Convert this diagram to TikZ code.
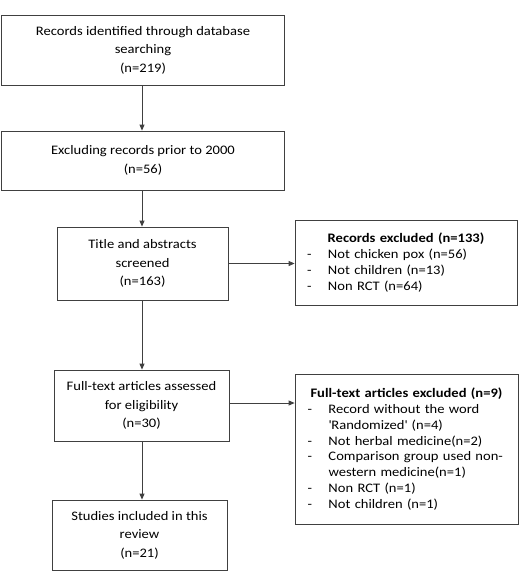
\documentclass[tikz,border=0pt]{standalone}
\usepackage{fontspec}
\setmainfont{Carlito}[FakeStretch = 1.12]
\usetikzlibrary{arrows.meta}

\newcommand{\exdash}{\makebox[21pt][l]{-}}

\begin{document}
\begin{tikzpicture}[x=1pt, y=-1pt,
    box/.style = {draw = black!75, line width = 0.8pt, align = center, inner sep = 0pt,
                  font = \fontsize{13}{18.5}\selectfont},
    exbox/.style = {draw = black!75, line width = 0.8pt, align = left, inner sep = 0pt,
                    text width = 198pt, font = \fontsize{13}{15.8}\selectfont},
    flow/.style = {-{Triangle[length = 6pt, width = 5pt]}, draw = black!75, line width = 0.8pt}]
    \useasboundingbox (0, 0) rectangle (523, 571);
    \node[box, minimum width = 283pt, minimum height = 70pt] (Identified) at (143, 50)
        {Records identified through database\\ searching\\ (n=219)};
    \node[box, minimum width = 283pt, minimum height = 59pt] (Prior 2000) at (143, 160.5)
        {Excluding records prior to 2000\\ (n=56)};
    \node[box, minimum width = 171pt, minimum height = 73pt] (Screened) at (142.5, 263.5)
        {Title and abstracts\\ screened\\ (n=163)};
    \node[box, minimum width = 175pt, minimum height = 71pt] (Full Text) at (141.5, 405.5)
        {Full-text articles assessed\\ for eligibility\\ (n=30)};
    \node[box, minimum width = 175pt, minimum height = 70pt] (Included) at (139.5, 535)
        {Studies included in this\\ review\\ (n=21)};
    \node[exbox, minimum width = 222pt, minimum height = 85pt] (Records Excluded) at (406, 262.5)
        {\makebox[\linewidth][c]{\bfseries Records excluded (n=133)}\\
         \exdash Not chicken pox (n=56)\\
         \exdash Not children (n=13)\\
         \exdash Non RCT (n=64)};
    \node[exbox, minimum width = 223pt, minimum height = 150pt] (Full Text Excluded) at (406.5, 449)
        {\makebox[\linewidth][c]{\bfseries Full-text articles excluded (n=9)}\\
         \exdash Record without the word\\
         \hspace*{21pt}\textquotesingle Randomized\textquotesingle\ (n=4)\\
         \exdash Not herbal medicine(n=2)\\
         \exdash Comparison group used non-\\
         \hspace*{21pt}western medicine(n=1)\\
         \exdash Non RCT (n=1)\\
         \exdash Not children (n=1)};
    \draw[flow] (Identified.south -| 142, 0) -- (Prior 2000.north -| 142, 0);
    \draw[flow] (Prior 2000.south -| 142, 0) -- (Screened.north -| 142, 0);
    \draw[flow] (Screened.south -| 142, 0) -- (Full Text.north -| 142, 0);
    \draw[flow] (Full Text.south -| 142, 0) -- (Included.north -| 142, 0);
    \draw[flow] (Screened.east) -- (Screened.east -| Records Excluded.west);
    \draw[flow] ([yshift = 2.5pt]Full Text.east) -- ([yshift = 2.5pt]Full Text.east -| Full Text Excluded.west);
\end{tikzpicture}
\end{document}
